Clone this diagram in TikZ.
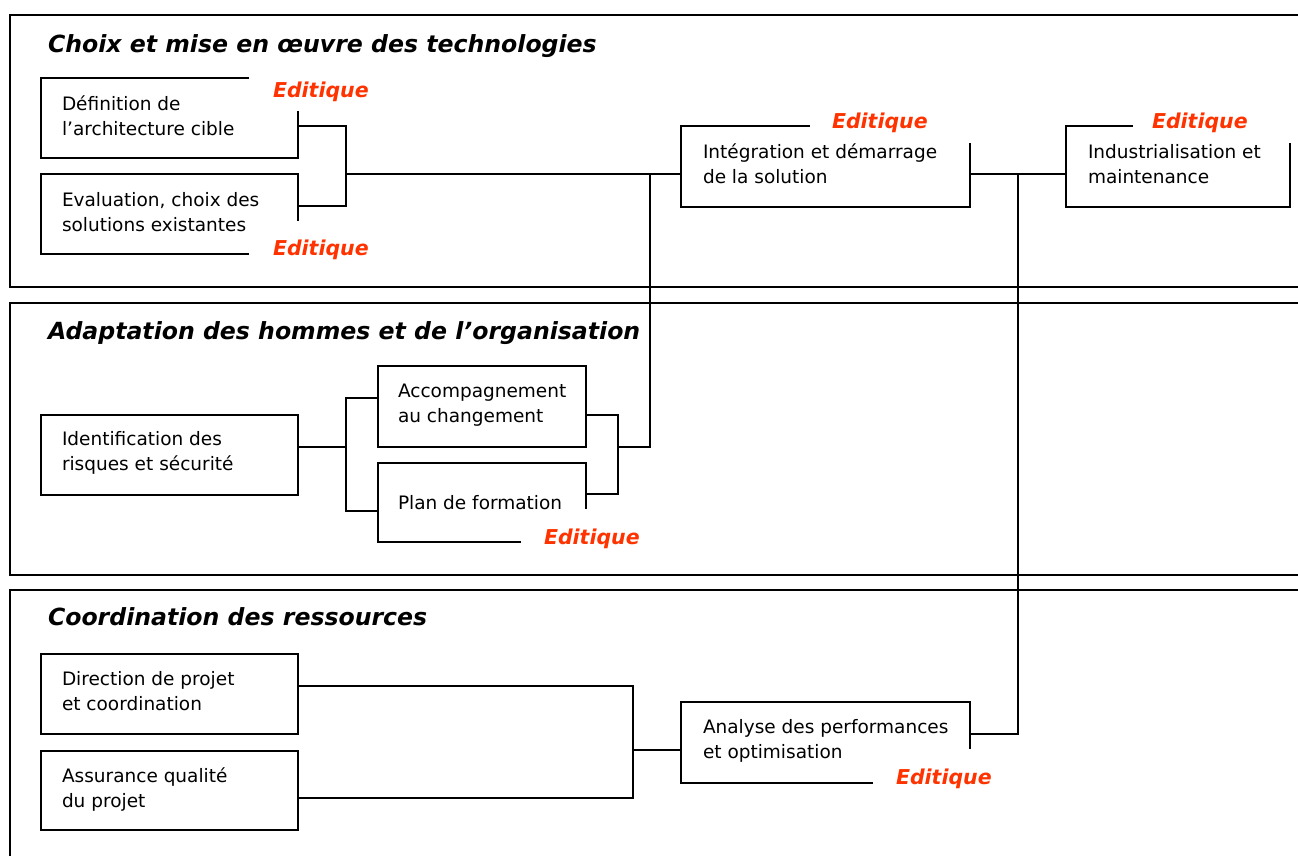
\documentclass[tikz,border=0pt]{standalone}
\usepackage{fontspec}
\setmainfont{DejaVu Sans}
\definecolor{edred}{RGB}{255,51,0}
\begin{document}
\begin{tikzpicture}[x=1pt,y=-1pt,line width=2pt,line join=miter,
  box/.style={rectangle,inner sep=0,outer sep=0,anchor=north west},
  txt/.style={anchor=base west,inner sep=0,font=\fontsize{18.5}{22}\selectfont},
  ttl/.style={anchor=base west,inner sep=0,font=\fontsize{23.6}{28}\selectfont\bfseries\itshape},
  edq/.style={anchor=base west,inner sep=0,text=edred,font=\fontsize{20.5}{24}\selectfont\bfseries\itshape},
  frame/.style={line width=2pt}]
\useasboundingbox (0,0) rectangle (1298,855);
% section frames
\draw[frame] (1310,15) -| (10,287) -- (1310,287);
\draw[frame] (1310,303) -| (10,575) -- (1310,575);
\draw[frame] (1310,590) -| (10,870);
% titles
\node[ttl] (s1) at (47,52) {Choix et mise en œuvre des technologies};
\node[ttl] (s2) at (47,339) {Adaptation des hommes et de l’organisation};
\node[ttl] (s3) at (47,625) {Coordination des ressources};
% boxes
\node[box,minimum width=257pt,minimum height=80pt] (b1) at (41,78) {};
\node[box,minimum width=257pt,minimum height=80pt] (b2) at (41,174) {};
\node[box,minimum width=289pt,minimum height=81pt] (b3) at (681,126) {};
\node[box,minimum width=224pt,minimum height=81pt] (b4) at (1066,126) {};
\node[box,minimum width=257pt,minimum height=80pt] (b5) at (41,415) {};
\node[box,minimum width=208pt,minimum height=81pt] (b6) at (378,366) {};
\node[box,minimum width=208pt,minimum height=79pt] (b7) at (378,463) {};
\node[box,minimum width=257pt,minimum height=80pt] (b8) at (41,654) {};
\node[box,minimum width=257pt,minimum height=79pt] (b9) at (41,751) {};
\node[box,minimum width=289pt,minimum height=81pt] (b10) at (681,702) {};
% borders
\draw (b1.north west -| 249,0) -- (b1.north west) -- (b1.south west) -- (b1.south east) -- (b1.east |- 0,111);
\draw (b2.south west -| 249,0) -- (b2.south west) -- (b2.north west) -- (b2.north east) -- (b2.east |- 0,221);
\draw (b3.north west -| 810,0) -- (b3.north west) -- (b3.south west) -- (b3.south east) -- (b3.east |- 0,143);
\draw (b4.north west -| 1133,0) -- (b4.north west) -- (b4.south west) -- (b4.south east) -- (b4.east |- 0,143);
\draw (b5.north west) rectangle (b5.south east);
\draw (b6.north west) rectangle (b6.south east);
\draw (b7.south west -| 521,0) -- (b7.south west) -- (b7.north west) -- (b7.north east) -- (b7.east |- 0,509);
\draw (b8.north west) rectangle (b8.south east);
\draw (b9.north west) rectangle (b9.south east);
\draw (b10.south west -| 873,0) -- (b10.south west) -- (b10.north west) -- (b10.north east) -- (b10.east |- 0,749);
% texts
\node[txt] (t1a) at (61,110) {Définition de};
\node[txt] (t1b) at (61,135) {l’architecture cible};
\node[txt] (t2a) at (61,206) {Evaluation, choix des};
\node[txt] (t2b) at (61,231) {solutions existantes};
\node[txt] (t3a) at (702,158) {Intégration et démarrage};
\node[txt] (t3b) at (702,183) {de la solution};
\node[txt] (t4a) at (1087,158) {Industrialisation et};
\node[txt] (t4b) at (1087,183) {maintenance};
\node[txt] (t5a) at (61,445) {Identification des};
\node[txt] (t5b) at (61,470) {risques et sécurité};
\node[txt] (t6a) at (397,397) {Accompagnement};
\node[txt] (t6b) at (397,422) {au changement};
\node[txt] (t7a) at (397,509) {Plan de formation};
\node[txt] (t8a) at (61,685) {Direction de projet};
\node[txt] (t8b) at (61,710) {et coordination};
\node[txt] (t9a) at (61,782) {Assurance qualité};
\node[txt] (t9b) at (61,807) {du projet};
\node[txt] (t10a) at (702,733) {Analyse des performances};
\node[txt] (t10b) at (702,758) {et optimisation};
% editique labels
\node[edq] (e1) at (272,97) {Editique};
\node[edq] (e2) at (272,255) {Editique};
\node[edq] (e3) at (831,128) {Editique};
\node[edq] (e4) at (1151,128) {Editique};
\node[edq] (e5) at (543,544) {Editique};
\node[edq] (e6) at (895,784) {Editique};
% junction coordinates
\coordinate (j1) at (346,174);
\coordinate (j2) at (650,174);
\coordinate (j3) at (1018,174);
\coordinate (j4) at (346,447);
\coordinate (j5) at (618,447);
\coordinate (j6) at (650,447);
\coordinate (j7) at (633,750);
\coordinate (j8) at (1018,734);
% connectors
\draw (b1.east |- 0,126) -| (j1) |- (b2.east |- 0,206);
\draw (j1) -- (b3.west |- j1);
\draw (j2) -- (j6) -- (j5);
\draw (b3.east |- j3) -- (b4.west |- j3);
\draw (j3) -- (j8) -- (b10.east |- j8);
\draw (b5.east |- j4) -- (j4);
\draw (b6.west |- 0,398) -| (j4) |- (b7.west |- 0,511);
\draw (b6.east |- 0,415) -| (j5) |- (b7.east |- 0,494);
\draw (b8.east |- 0,686) -| (j7) |- (b9.east |- 0,798);
\draw (j7) -- (b10.west |- j7);
\end{tikzpicture}
\end{document}
